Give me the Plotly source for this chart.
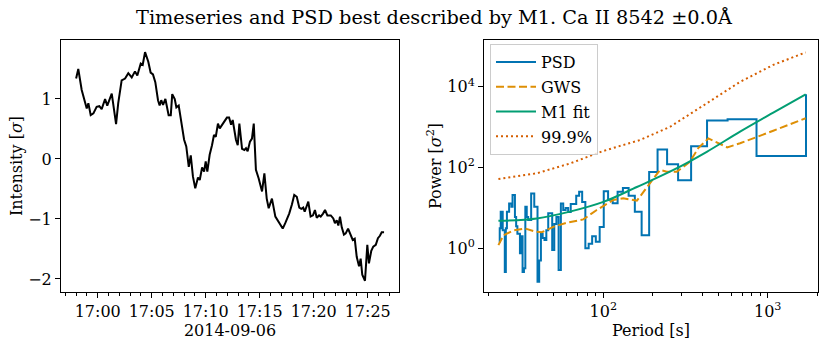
import numpy as np
import pandas as pd
import plotly.graph_objects as go

# ---- timeseries (seconds after 16:58:00, intensity in sigma) ----
t_sec = [0, 12, 31, 49, 59, 68, 81, 96, 114, 129, 142, 161, 173, 198, 222, 234,
         253, 272, 290, 309, 327, 340, 359, 370, 383, 401, 414, 427, 440, 455,
         464, 473, 483, 496, 505, 514, 526, 534, 548, 557, 570, 584, 600, 612,
         626, 637, 649, 662, 677, 687, 700, 711, 720, 729, 742, 755, 766, 776,
         788, 798, 811, 826, 838, 850, 861, 870, 888, 898, 907, 922, 935, 944,
         953, 966, 977, 987, 999, 1014, 1033, 1046, 1059, 1070, 1088, 1107,
         1120, 1133, 1148, 1162, 1184, 1199, 1212, 1226, 1240, 1251, 1262, 1270,
         1281, 1290, 1303, 1316, 1327, 1337, 1350, 1359, 1372, 1383, 1396, 1415,
         1429, 1438, 1448, 1457, 1466, 1476, 1488, 1498, 1511, 1526, 1537, 1548,
         1559, 1572, 1581, 1590, 1605, 1618, 1627, 1640, 1651, 1665, 1677, 1688,
         1698, 1711]
intensity = [1.34, 1.50, 1.15, 0.94, 0.84, 0.93, 0.73, 0.76, 0.87, 0.88, 0.83,
             1.00, 0.89, 1.09, 0.58, 0.93, 1.31, 1.34, 1.43, 1.36, 1.46, 1.39,
             1.59, 1.57, 1.78, 1.62, 1.44, 1.41, 1.28, 0.98, 0.89, 0.98, 0.90,
             1.00, 0.89, 0.73, 0.73, 1.08, 1.00, 0.86, 0.89, 0.59, 0.32, 0.21,
             -0.13, 0.06, -0.29, -0.49, -0.31, -0.35, -0.14, -0.21, -0.04, -0.21,
             0.07, 0.23, 0.40, 0.37, 0.59, 0.51, 0.57, 0.63, 0.69, 0.69, 0.57,
             0.65, 0.32, 0.23, 0.59, 0.17, 0.15, 0.18, 0.13, 0.29, 0.34, 0.59,
             -0.18, -0.32, -0.54, -0.24, -0.66, -0.82, -0.66, -0.96, -1.02, -1.07,
             -1.16, -1.07, -0.91, -0.76, -0.60, -0.63, -0.81, -0.83, -0.81, -0.88,
             -0.79, -0.71, -0.96, -0.94, -0.85, -0.98, -0.94, -0.96, -0.91, -0.85,
             -0.94, -0.94, -0.99, -1.07, -1.02, -1.11, -0.96, -1.14, -1.26, -1.24,
             -1.16, -1.29, -1.35, -1.33, -1.63, -1.79, -1.66, -1.93, -2.03, -1.43,
             -1.74, -1.53, -1.46, -1.43, -1.32, -1.28, -1.22, -1.22]
t0 = pd.Timestamp("2014-09-06 16:58:00")
times = [t0 + pd.Timedelta(seconds=s) for s in t_sec]

# ---- PSD: Fourier periods of the series (longest first) ----
n_freq = 74
period = 1710.0 / np.arange(1, n_freq + 1)
psd = [6500, 194, 1570, 1450, 337, 48.5, 120, 281, 77.5, 2.1,
       8.1, 20, 31, 25, 13, 16, 26, 3.4, 1.45, 2.0,
       1.3, 1.0, 14, 25, 20, 12.6, 12.6, 7.9, 10, 8.9,
       12.9, 0.29, 6.0, 4.0, 0.91, 7.4, 7.4, 2.8, 1.6, 1.8,
       2.3, 0.5, 0.15, 10.7, 10.7, 22.9, 22.9, 5.0, 5.0, 6.0,
       10.7, 0.32, 0.26, 2.0, 0.76, 2.3, 2.3, 3.5, 6.0, 20.9,
       20.9, 10.7, 12.9, 12.9, 8.1, 8.1, 3.16, 0.26, 2.8, 2.8,
       8.1, 8.1, 3.16, 1.45]

gws_period = [23, 24.7, 28.4, 33.4, 38.5, 42.2, 49.6, 59.9, 75.5, 91.2, 115, 132,
              160, 192, 211, 221, 243, 280, 336, 378, 436, 480, 567, 679, 857,
              1081, 1702]
gws_power = [1.2, 2.1, 2.8, 3.1, 2.6, 2.5, 3.4, 4.3, 5.2, 8.9, 15.8, 17.4,
             15.1, 40.7, 72, 87, 79, 79, 138, 302, 525, 437, 316, 398, 562,
             813, 1660]

fit_period = [23, 39.4, 62.6, 100, 160, 267, 426, 679, 1081, 1702]
fit_power = [4.8, 5.5, 8.1, 14.1, 33, 87, 245, 776, 2290, 6460]

sig_period = [23, 39.4, 62.6, 100, 167, 255, 426, 679, 1081, 1702]
sig_power = [52, 72, 126, 257, 479, 1023, 3890, 13200, 34700, 70800]

BLUE, ORANGE, GREEN, RED = "#0173b2", "#de8f05", "#029e73", "#d55e00"
W, H = 830, 345
FONT = "DejaVu Serif"
FS = 16

fig = go.Figure()
fig.add_trace(go.Scatter(x=times, y=intensity, mode="lines",
                         line=dict(color="black", width=2),
                         showlegend=False, xaxis="x", yaxis="y"))
fig.add_trace(go.Scatter(x=period, y=psd, mode="lines", name="PSD", legendgroup="a",
                         line=dict(color=BLUE, width=2, shape="vh"),
                         xaxis="x2", yaxis="y2"))
fig.add_trace(go.Scatter(x=gws_period, y=gws_power, mode="lines", name="GWS",
                         legendgroup="b",
                         line=dict(color=ORANGE, width=2, dash="8px,3.5px"),
                         xaxis="x2", yaxis="y2"))
fig.add_trace(go.Scatter(x=fit_period, y=fit_power, mode="lines", name="M1 fit",
                         legendgroup="c",
                         line=dict(color=GREEN, width=2, shape="spline"),
                         xaxis="x2", yaxis="y2"))
fig.add_trace(go.Scatter(x=sig_period, y=sig_power, mode="lines", name="99.9%",
                         legendgroup="d",
                         line=dict(color=RED, width=2, dash="2px,3px"),
                         xaxis="x2", yaxis="y2"))

ydom = [(H - 292) / H, (H - 40) / H]
frame = dict(showline=True, mirror=True, linecolor="black", linewidth=1,
             showgrid=False, zeroline=False, ticks="outside", ticklen=5,
             tickcolor="black", tickfont=dict(size=FS, color="black"))
tfont = dict(size=FS, color="black")

major_p = [100, 1000]
minor_p = [m * d for d in (10, 100, 1000) for m in range(2, 10)]

fig.update_layout(
    width=W, height=H,
    margin=dict(l=0, r=0, t=0, b=0),
    paper_bgcolor="white", plot_bgcolor="white",
    font=dict(family=FONT, size=FS, color="black"),
    title=dict(text="Timeseries and PSD best described by M1. Ca II 8542 ±0.0Å",
               x=434 / W, xanchor="center", y=1 - 17 / H, yanchor="middle",
               font=dict(size=19.3)),
    xaxis=dict(domain=[61 / W, 399 / W], type="date",
               range=["2014-09-06 16:56:36", "2014-09-06 17:27:54"],
               tickformat="%H:%M", dtick=300000,
               tick0="2014-09-06 17:00:00",
               minor=dict(dtick=60000, ticks="outside", ticklen=3, tickcolor="black"),
               title=dict(text="2014-09-06", standoff=2, font=tfont),
               anchor="y", **frame),
    yaxis=dict(domain=ydom, range=[-2.217, 1.983],
               tickvals=[-2, -1, 0, 1], ticktext=["−2", "−1", "0", "1"],
               title=dict(text="Intensity [<i>σ</i>]", standoff=1, font=tfont),
               anchor="x", **frame),
    xaxis2=dict(domain=[484 / W, 818 / W], type="log", range=[1.274, 3.306],
                tickvals=major_p, ticktext=["10<sup>2</sup>", "10<sup>3</sup>"],
                minor=dict(tickvals=minor_p, ticks="outside", ticklen=3,
                           tickcolor="black"),
                title=dict(text="Period [s]", standoff=2, font=tfont),
                anchor="y2", **frame),
    yaxis2=dict(domain=ydom, type="log", range=[-1.08, 5.156],
                tickvals=[1, 100, 10000],
                ticktext=["10<sup>0</sup>", "10<sup>2</sup>", "10<sup>4</sup>"],
                title=dict(text="Power [<i>σ</i><sup>2</sup>]", standoff=1, font=tfont),
                anchor="x2", **frame),
    legend=dict(x=490 / W, y=(H - 44) / H, xanchor="left", yanchor="top",
                bgcolor="rgba(255,255,255,0.8)", bordercolor="#cccccc",
                borderwidth=1, font=dict(size=FS), tracegroupgap=1,
                itemwidth=40),
)

fig.write_html("out.html", config={"displayModeBar": False},
               post_script="document.body.style.margin='0';")
